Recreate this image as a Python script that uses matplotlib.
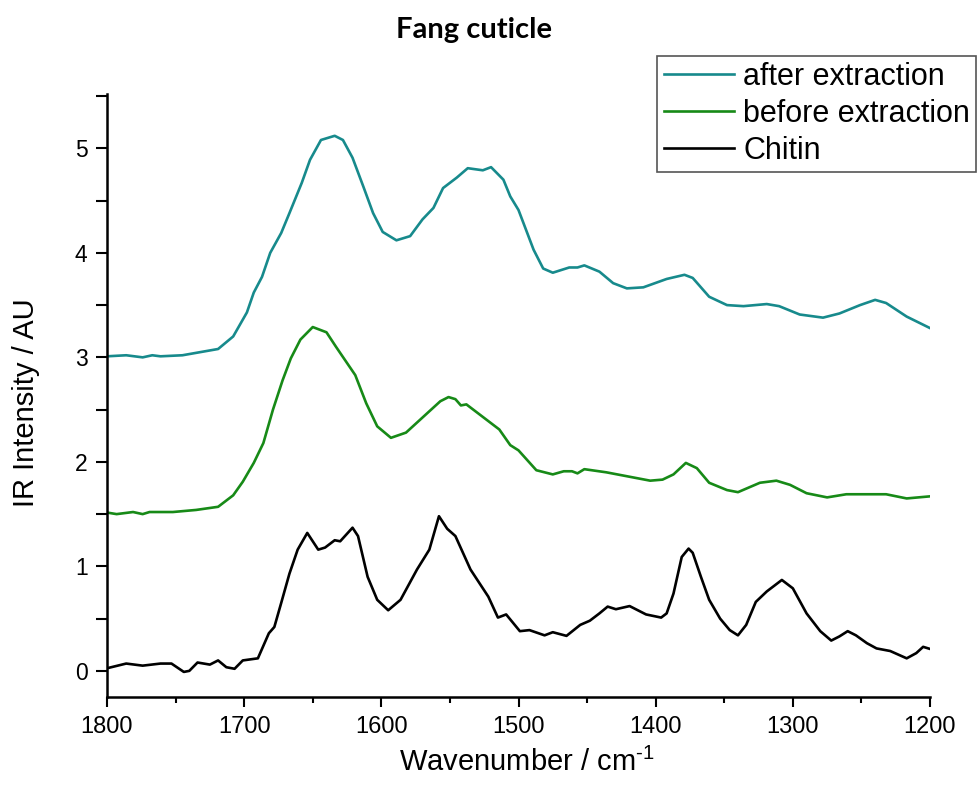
import numpy as np
import matplotlib
matplotlib.use("Agg")
import matplotlib.pyplot as plt
from matplotlib.ticker import MultipleLocator

plt.rcParams['font.family'] = ['Liberation Sans', 'DejaVu Sans']
plt.rcParams['mathtext.fontset'] = 'custom'
plt.rcParams['mathtext.rm'] = 'Liberation Sans'
plt.rcParams['mathtext.it'] = 'Liberation Sans:italic'

# after extraction (teal)
wn_after = [1800, 1786, 1774, 1767, 1761, 1745, 1732, 1719, 1708, 1698,
            1693, 1687, 1681, 1673, 1667, 1658, 1652, 1644, 1634, 1628,
            1621, 1613, 1606, 1599, 1589, 1579, 1570, 1562, 1555, 1545,
            1537, 1526, 1520, 1511, 1506, 1500, 1489, 1482, 1475, 1463,
            1457, 1452, 1441, 1431, 1421, 1409, 1392, 1379, 1373, 1361,
            1348, 1336, 1319, 1310, 1295, 1278, 1266, 1251, 1240, 1232,
            1217, 1200]
ir_after = [3.01, 3.02, 3.00, 3.02, 3.01, 3.02, 3.05, 3.08, 3.20, 3.43,
            3.62, 3.77, 4.00, 4.19, 4.38, 4.67, 4.89, 5.08, 5.12, 5.08,
            4.91, 4.63, 4.38, 4.20, 4.12, 4.16, 4.32, 4.43, 4.62, 4.72,
            4.81, 4.79, 4.82, 4.70, 4.54, 4.41, 4.03, 3.85, 3.81, 3.86,
            3.86, 3.88, 3.82, 3.71, 3.66, 3.67, 3.75, 3.79, 3.76, 3.58,
            3.50, 3.49, 3.51, 3.49, 3.41, 3.38, 3.42, 3.50, 3.55, 3.52,
            3.39, 3.28]

# before extraction (green)
wn_before = [1800, 1793, 1781, 1774, 1769, 1752, 1735, 1719, 1708, 1701,
             1693, 1686, 1679, 1672, 1666, 1659, 1650, 1640, 1633, 1619,
             1611, 1603, 1593, 1582, 1572, 1562, 1557, 1551, 1546, 1542,
             1538, 1526, 1514, 1506, 1500, 1487, 1475, 1467, 1461, 1457,
             1452, 1436, 1416, 1404, 1395, 1387, 1378, 1370, 1361, 1348,
             1340, 1324, 1312, 1302, 1290, 1275, 1261, 1246, 1232, 1217,
             1200]
ir_before = [1.515, 1.50, 1.52, 1.50, 1.52, 1.52, 1.54, 1.57, 1.68, 1.81,
             1.99, 2.18, 2.50, 2.78, 2.99, 3.17, 3.29, 3.24, 3.10, 2.83,
             2.56, 2.34, 2.23, 2.28, 2.40, 2.52, 2.58, 2.62, 2.60, 2.54,
             2.55, 2.43, 2.31, 2.16, 2.11, 1.92, 1.88, 1.91, 1.91, 1.89,
             1.93, 1.90, 1.85, 1.82, 1.83, 1.88, 1.99, 1.94, 1.80, 1.73,
             1.71, 1.80, 1.82, 1.78, 1.70, 1.66, 1.69, 1.69, 1.69, 1.65,
             1.67]

# chitin reference (black)
wn_chitin = [1800, 1786, 1774, 1761, 1753, 1744, 1740, 1734, 1725, 1719,
             1713, 1707, 1701, 1690, 1682, 1678, 1673, 1667, 1661, 1654,
             1646, 1641, 1634, 1630, 1621, 1617, 1610, 1603, 1595, 1586,
             1574, 1565, 1558, 1552, 1546, 1535, 1522, 1515, 1509, 1499,
             1492, 1481, 1475, 1465, 1455, 1448, 1441, 1435, 1429, 1419,
             1407, 1396, 1392, 1387, 1381, 1376, 1373, 1367, 1361, 1353,
             1346, 1340, 1334, 1327, 1319, 1308, 1300, 1290, 1280, 1272,
             1266, 1260, 1254, 1246, 1239, 1229, 1217, 1210, 1205, 1200]
ir_chitin = [0.025, 0.07, 0.05, 0.07, 0.07, -0.01, 0.0, 0.08, 0.06, 0.10,
             0.035, 0.02, 0.10, 0.12, 0.36, 0.42, 0.65, 0.93, 1.16, 1.32,
             1.16, 1.18, 1.25, 1.24, 1.37, 1.29, 0.90, 0.68, 0.58, 0.68,
             0.97, 1.16, 1.48, 1.36, 1.29, 0.97, 0.71, 0.51, 0.54, 0.38,
             0.39, 0.34, 0.37, 0.335, 0.44, 0.48, 0.55, 0.615, 0.59, 0.62,
             0.54, 0.51, 0.55, 0.74, 1.09, 1.17, 1.13, 0.90, 0.68, 0.50,
             0.39, 0.34, 0.44, 0.66, 0.76, 0.87, 0.79, 0.55, 0.38, 0.29,
             0.33, 0.38, 0.34, 0.265, 0.215, 0.19, 0.12, 0.17, 0.23, 0.21]

fig = plt.figure(figsize=(9.77, 7.85), dpi=100)
ax = fig.add_axes([107 / 977, 1 - 697 / 785, 823 / 977, 603 / 785])

lw = 1.9
ax.plot(wn_after, ir_after, color='#178a8c', lw=lw, label='after extraction')
ax.plot(wn_before, ir_before, color='#178a17', lw=lw, label='before extraction')
ax.plot(wn_chitin, ir_chitin, color='black', lw=lw, label='Chitin')

ax.set_xlim(1800, 1200)
ax.set_ylim(-0.25, 5.52)

ax.spines['top'].set_visible(False)
ax.spines['right'].set_visible(False)
ax.spines['left'].set_linewidth(1.8)
ax.spines['bottom'].set_linewidth(1.8)

ax.xaxis.set_major_locator(MultipleLocator(100))
ax.xaxis.set_minor_locator(MultipleLocator(50))
ax.yaxis.set_major_locator(MultipleLocator(1))
ax.yaxis.set_minor_locator(MultipleLocator(0.5))
ax.tick_params(axis='x', which='major', direction='out', length=7.5, width=1.5, labelsize=17, pad=6)
ax.tick_params(axis='x', which='minor', direction='out', length=4, width=1.5)
ax.tick_params(axis='y', which='both', direction='out', length=8, width=1.5)
ax.tick_params(axis='y', which='major', labelsize=16.5, pad=6)

ax.set_xlabel(r'Wavenumber / cm$^{\text{-1}}$', fontsize=21)
ax.set_ylabel('IR Intensity / AU', fontsize=21)
ax.xaxis.set_label_coords(0.51, -0.085)
ax.yaxis.set_label_coords(-0.082, 0.488)

fig.text(474 / 977, 1 - 30 / 785, 'Fang cuticle', family=['Lato', 'DejaVu Sans'],
         fontweight='bold', fontsize=21, ha='center', va='center')

leg = ax.legend(loc='upper right', bbox_to_anchor=(976 / 977, 1 - 56 / 785),
                bbox_transform=fig.transFigure, borderaxespad=0, fontsize=22,
                frameon=True, fancybox=False, framealpha=1, borderpad=0.2,
                labelspacing=0.22, handlelength=2.3, handletextpad=0.3)
leg.get_frame().set_edgecolor('#555555')
leg.get_frame().set_linewidth(1.2)

fig.savefig('out.png', dpi=100)
